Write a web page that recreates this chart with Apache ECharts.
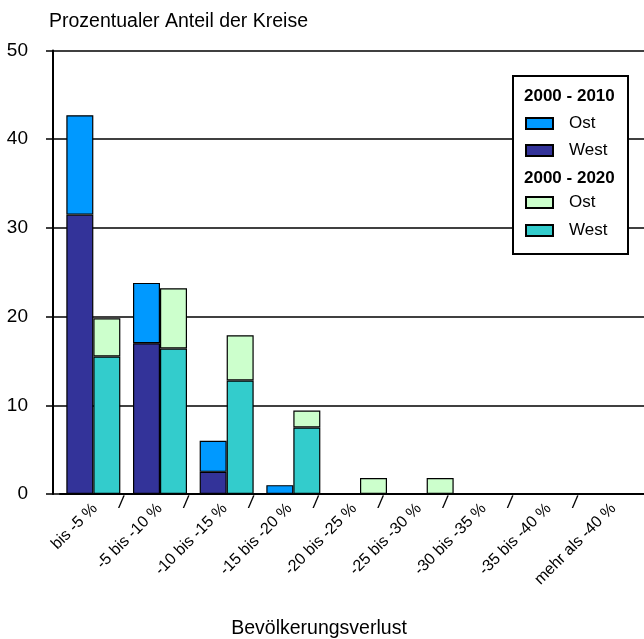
<!DOCTYPE html>
<html><head><meta charset="utf-8">
<script src="https://cdn.jsdelivr.net/npm/echarts@6/dist/echarts.min.js"></script>
<style>html,body{margin:0;padding:0;background:#fff}#c{width:644px;height:639px}</style>
</head><body><div id="c"></div>
<script>
// ---- data ----
const categories = ['bis -5 %', '-5 bis -10 %', '-10 bis -15 %', '-15 bis -20 %', '-20 bis -25 %', '-25 bis -30 %', '-30 bis -35 %', '-35 bis -40 %', 'mehr als -40 %'];
const west2010 = [31.5, 17.0, 2.5, 0, 0, 0, 0, 0, 0];
const ost2010  = [11.2, 6.8, 3.5, 1.0, 0, 0, 0, 0, 0];
const west2020 = [15.5, 16.4, 12.8, 7.5, 0, 0, 0, 0, 0];
const ost2020  = [4.3, 6.8, 5.1, 1.9, 1.8, 1.8, 0, 0, 0];
const slashMarks = ['', '/', '/', '/', '/', '/', '/', '/', '/', ''];
const titleText = 'Prozentualer Anteil der Kreise';
const xName = 'Bevölkerungsverlust';
const group1 = '2000 - 2010';
const group2 = '2000 - 2020';

const FONT = '"Liberation Sans", Arial, Helvetica, sans-serif';
const chart = echarts.init(document.getElementById('c'));

function barSeries(name, stack, data, color) {
  return {
    name: name, type: 'bar', stack: stack, data: data,
    xAxisIndex: 0, yAxisIndex: 0,
    barWidth: 27, barGap: '0%',
    itemStyle: { color: color, borderColor: '#000', borderWidth: 1.2 },
    emphasis: { disabled: true }
  };
}

const legendBase = {
  orient: 'vertical', left: 525, padding: 0, icon: 'rect',
  itemWidth: 27, itemHeight: 11, selectedMode: false,
  formatter: n => n.split(' ')[0],
  textStyle: { fontSize: 17, color: '#000', fontFamily: FONT, lineHeight: 14, padding: [0, 0, 0, 11] }
};

chart.setOption({
  animation: false,
  grid: [
    { left: 60, width: 600, top: 50.5, bottom: 145, outerBoundsMode: 'none', containLabel: false },
    { left: 62.6, width: 583.2, top: 50.5, bottom: 145, outerBoundsMode: 'none', containLabel: false }
  ],
  xAxis: [
    { gridIndex: 0, type: 'category', data: categories,
      axisLine: { lineStyle: { color: '#000', width: 2 } },
      axisTick: { show: false }, axisLabel: { show: false } },
    { gridIndex: 1, type: 'category', data: categories, position: 'bottom',
      axisLine: { show: false }, axisTick: { show: false },
      axisLabel: { interval: 0, rotate: 45, margin: 12, fontSize: 16, color: '#000', fontFamily: FONT } },
    { gridIndex: 1, type: 'category', data: slashMarks, boundaryGap: false, position: 'bottom',
      axisLine: { show: false }, axisTick: { show: false },
      axisLabel: { interval: 0, rotate: -8, margin: 1, fontSize: 18, color: '#000', fontFamily: FONT,
                   align: 'center', verticalAlign: 'top', padding: [0, 10, 0, 0] } }
  ],
  yAxis: [
    { gridIndex: 0, type: 'value', position: 'left', min: 0, max: 50, interval: 10,
      axisLine: { show: false },
      axisTick: { show: true, length: 14, lineStyle: { color: '#000', width: 1.5 } },
      splitLine: { lineStyle: { color: '#000', width: 1.5 } },
      axisLabel: { margin: 32, fontSize: 19, color: '#000', fontFamily: FONT, padding: [0, 0, 9, 0] } },
    { gridIndex: 0, type: 'value', position: 'left', offset: 7, min: 0, max: 50,
      axisLine: { show: true, lineStyle: { color: '#000', width: 2 } },
      axisTick: { show: false }, axisLabel: { show: false }, splitLine: { show: false } },
    { gridIndex: 1, type: 'value', show: false }
  ],
  legend: [
    Object.assign({}, legendBase, { data: ['Ost 2000-2010', 'West 2000-2010'], top: 115, itemGap: 10 }),
    Object.assign({}, legendBase, { data: ['Ost 2000-2020', 'West 2000-2020'], top: 194, itemGap: 11 })
  ],
  graphic: [
    { type: 'rect', z: 3, shape: { x: 513, y: 76, width: 115, height: 178 },
      style: { fill: '#fff', stroke: '#000', lineWidth: 2 } },
    { type: 'text', z: 5, x: 524, y: 96,
      style: { text: group1, font: 'bold 17px ' + FONT, fill: '#000', verticalAlign: 'middle', textVerticalAlign: 'middle' } },
    { type: 'text', z: 5, x: 524, y: 178,
      style: { text: group2, font: 'bold 17px ' + FONT, fill: '#000', verticalAlign: 'middle', textVerticalAlign: 'middle' } },
    { type: 'text', z: 5, x: 49, y: 21.5,
      style: { text: titleText, font: '19.5px ' + FONT, fill: '#000', verticalAlign: 'middle', textVerticalAlign: 'middle' } },
    { type: 'text', z: 5, x: 319, y: 629,
      style: { text: xName, font: '19.5px ' + FONT, fill: '#000', align: 'center', textAlign: 'center', verticalAlign: 'middle', textVerticalAlign: 'middle' } }
  ],
  series: [
    barSeries('West 2000-2010', 'a', west2010, '#333399'),
    barSeries('Ost 2000-2010', 'a', ost2010, '#0099FF'),
    barSeries('West 2000-2020', 'b', west2020, '#33CCCC'),
    barSeries('Ost 2000-2020', 'b', ost2020, '#CCFFCC')
  ]
});
</script>
</body></html>
